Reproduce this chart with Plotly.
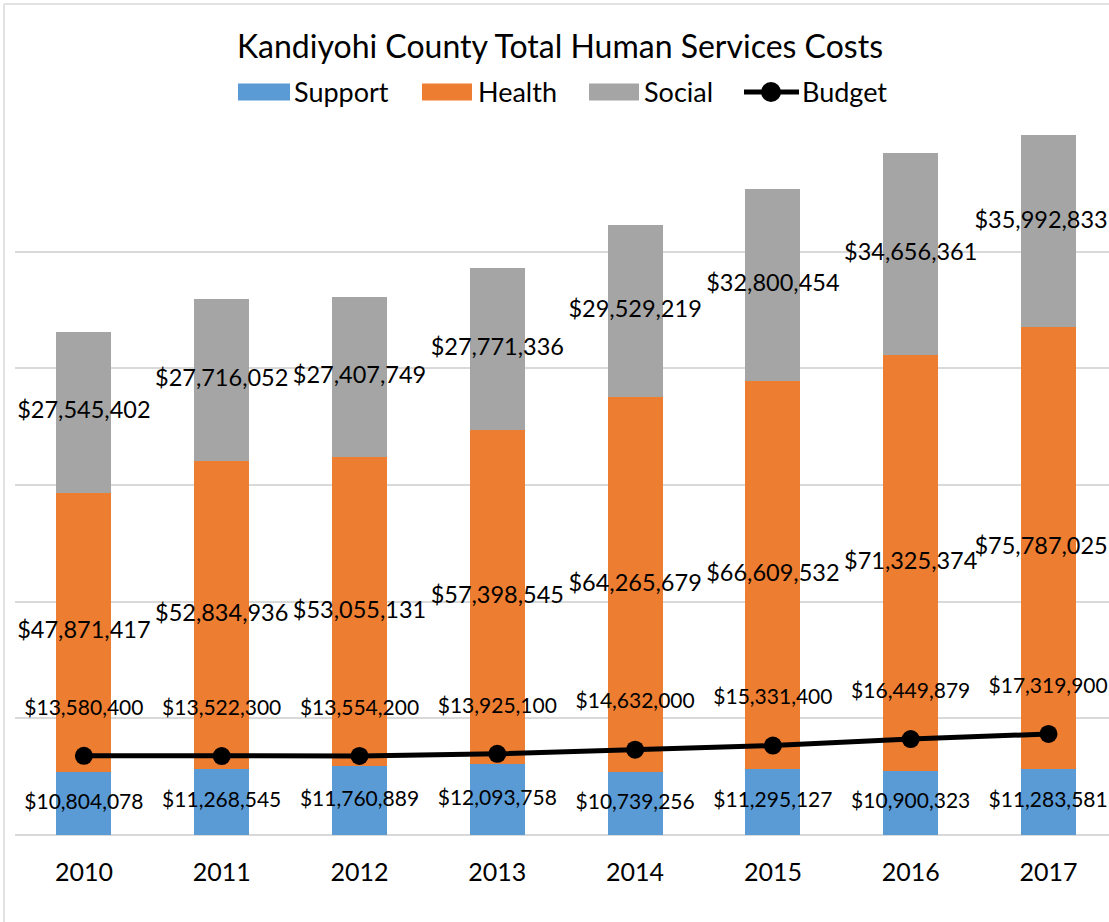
import plotly.graph_objects as go

years = ["2010", "2011", "2012", "2013", "2014", "2015", "2016", "2017"]
support = [10804078, 11268545, 11760889, 12093758, 10739256, 11295127, 10900323, 11283581]
health = [47871417, 52834936, 53055131, 57398545, 64265679, 66609532, 71325374, 75787025]
social = [27545402, 27716052, 27407749, 27771336, 29529219, 32800454, 34656361, 35992833]
budget = [13580400, 13522300, 13554200, 13925100, 14632000, 15331400, 16449879, 17319900]
series_names = ["Support", "Health", "Social", "Budget"]

W, H = 1109, 922
ML, MR, MT, MB = 15, 0, 0, 87
PW, PH = W - ML - MR, H - MT - MB          # paper area: x 15..1109, y 0..835
PLOT_TOP = 135                             # pixel y of the 120M gridline
CAT_PX = 137.8
X_RANGE = [-0.5, -0.5 + PW / CAT_PX]
FONT = "Lato"
BLUE, ORANGE, GRAY = "#5B9BD5", "#ED7D31", "#A5A5A5"
GRID = "#D9D9D9"
BIG, SMALL = 23.5, 21
RIGHT_EDGE_PX = 1107


def money(v):
    return "${:,}".format(v)


def label_x(i, text, size):
    # keep label inside the chart area, like Excel does
    half = len(text) * size * 0.255 / CAT_PX
    xmax = -0.5 + (RIGHT_EDGE_PX - ML) / CAT_PX
    return min(i, xmax - half)


health_base = support
social_base = [s + h for s, h in zip(support, health)]
idx = list(range(len(years)))

fig = go.Figure()
fig.add_trace(go.Bar(name="Support", x=years, y=support, marker=dict(color=BLUE, line=dict(width=0))))
fig.add_trace(go.Bar(name="Health", x=years, y=health, marker=dict(color=ORANGE, line=dict(width=0))))
fig.add_trace(go.Bar(name="Social", x=years, y=social, marker=dict(color=GRAY, line=dict(width=0))))
fig.add_trace(go.Scatter(name="Budget", x=years, y=budget, mode="lines+markers",
                         line=dict(color="black", width=5),
                         marker=dict(color="black", size=18)))


def add_labels(values, ys, size, **kw):
    texts = [money(v) for v in values]
    fig.add_trace(go.Scatter(x=[label_x(i, t, size) for i, t in zip(idx, texts)], y=ys,
                             xaxis="x3", yaxis="y", text=texts,
                             textfont=dict(family=FONT, size=size, color="black"),
                             showlegend=False, hoverinfo="skip", cliponaxis=False, **kw))


add_labels(support, [s / 2 for s in support], SMALL, mode="text", textposition="middle center")
add_labels(health, [b + h / 2 for b, h in zip(health_base, health)], BIG,
           mode="text", textposition="middle center")
add_labels(social, [b + s / 2 for b, s in zip(social_base, social)], BIG,
           mode="text", textposition="middle center")
add_labels(budget, budget, SMALL, mode="markers+text", textposition="top center",
           marker=dict(size=56, color="rgba(0,0,0,0)"))


def px_x(p):
    return (p - ML) / PW


def px_y(p):
    return 1 - (p - MT) / PH


# custom legend (Excel style), pixel layout
LEG_Y = 92
leg_swatches = [(238, 290, BLUE), (422, 472, ORANGE), (589, 639, GRAY)]
leg_text_x = [294, 478, 644, 802]
shapes = [
    dict(type="line", xref="paper", yref="paper", x0=px_x(4), x1=px_x(4), y0=px_y(4), y1=px_y(H + 5),
         line=dict(color=GRID, width=1.5)),
    dict(type="line", xref="paper", yref="paper", x0=px_x(4), x1=px_x(W + 5), y0=px_y(4), y1=px_y(4),
         line=dict(color=GRID, width=1.5)),
]
for x0, x1, c in leg_swatches:
    shapes.append(dict(type="rect", xref="paper", yref="paper", x0=px_x(x0), x1=px_x(x1),
                       y0=px_y(LEG_Y + 8.5), y1=px_y(LEG_Y - 8.5), fillcolor=c, line=dict(width=0)))
shapes.append(dict(type="line", xref="paper", yref="paper", x0=px_x(744), x1=px_x(799),
                   y0=px_y(LEG_Y), y1=px_y(LEG_Y), line=dict(color="black", width=5)))
shapes.append(dict(type="circle", xref="paper", yref="paper", x0=px_x(771 - 10), x1=px_x(771 + 10),
                   y0=px_y(LEG_Y + 10), y1=px_y(LEG_Y - 10), fillcolor="black", line=dict(width=0)))

fig.add_trace(go.Scatter(x=leg_text_x, y=[LEG_Y + 3] * 4, xaxis="x2", yaxis="y2", mode="text",
                         text=series_names, textposition="middle right",
                         textfont=dict(family=FONT, size=27, color="black"),
                         showlegend=False, hoverinfo="skip", cliponaxis=False))

fig.update_layout(
    width=W, height=H,
    margin=dict(l=ML, r=MR, t=MT, b=MB, autoexpand=False),
    paper_bgcolor="white", plot_bgcolor="rgba(0,0,0,0)",
    barmode="stack", bargap=0.6,
    showlegend=False,
    title=dict(text="Kandiyohi County Total Human Services Costs",
               x=560 / W, xanchor="center", y=1 - 47 / H, yanchor="middle",
               font=dict(family=FONT, size=32, color="black")),
    xaxis=dict(type="category", range=X_RANGE, showgrid=False, showline=False,
               ticks="", ticklabelstandoff=20, domain=[0, 1], anchor="y",
               tickfont=dict(family=FONT, size=25, color="black"), fixedrange=True),
    yaxis=dict(range=[0, 120000000], dtick=20000000, showgrid=True, gridcolor=GRID,
               domain=[0, (H - MB - PLOT_TOP) / PH], anchor="x",
               gridwidth=1.5, showticklabels=False, zeroline=True, zerolinecolor=GRID,
               zerolinewidth=1.5, showline=False, ticks="", fixedrange=True),
    xaxis3=dict(overlaying="x", range=X_RANGE, visible=False, fixedrange=True),
    xaxis2=dict(domain=[0, 1], anchor="y2", range=[ML, W - MR], visible=False, fixedrange=True),
    yaxis2=dict(domain=[0, 1], anchor="x2", range=[H - MB, MT], visible=False, fixedrange=True),
    shapes=shapes,
)

fig.write_html("out.html", config={"displayModeBar": False},
               post_script="document.body.style.margin='0';document.body.style.overflow='hidden';")
